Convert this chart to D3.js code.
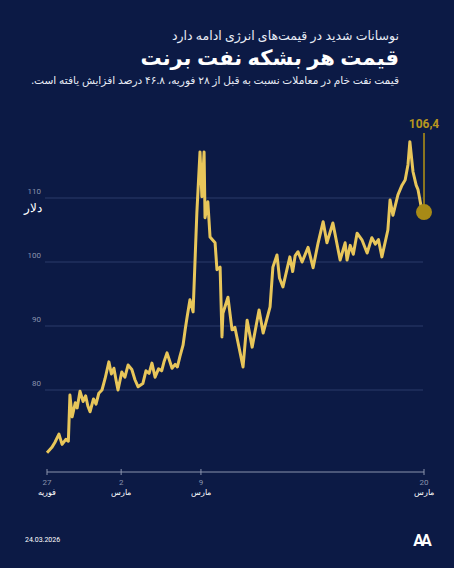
<!DOCTYPE html>
<html><head><meta charset="utf-8">
<script src="https://cdn.jsdelivr.net/npm/d3@7"></script>
<style>body{margin:0;background:#0c1a45}svg{display:block}</style>
</head><body><div id="chart"></div>
<script>
// brent price, x = trading-time index (0..120)
var idx = [0,1.5,2.5,3.8,4.8,6.0,6.8,7.3,8.0,9.0,9.6,10.5,11.5,12.3,13.0,13.7,14.8,15.6,16.5,17.5,18.5,19.7,20.5,21.3,22.0,22.6,23.8,24.8,25.8,27.0,28.0,29.0,30.5,31.5,32.5,33.4,34.4,35.5,36.5,37.3,38.2,39.8,40.8,41.5,42.3,43.3,44.0,44.6,45.5,46.5,47.7,48.7,49.3,50.0,50.3,51.2,51.9,53.5,54.1,55.1,55.7,56.0,57.6,58.9,59.8,62.4,63.7,65.3,67.5,68.8,71.0,71.9,73.2,74.0,75.1,77.3,78.2,79.0,79.9,81.2,83.1,84.7,86.3,87.9,89.1,91.0,93.3,94.9,95.5,96.5,97.5,98.7,100.3,101.9,103.4,104.5,105.5,106.6,108.5,109.2,110.1,111.7,113.0,114.0,114.9,115.5,116.5,117.5,118.1,119.0,119.4,120];
var price = [70.2,71.0,71.8,73.1,71.5,72.3,72.0,79.2,75.8,78.0,77.2,79.8,78.2,79.1,77.5,76.6,78.6,77.8,79.5,80.0,81.8,84.4,82.5,83.4,81.5,80.0,82.8,82.0,83.9,83.2,81.6,80.5,81.0,83.0,82.6,84.2,82.0,83.3,83.0,84.5,85.8,83.4,84.0,83.6,85.2,87.0,89.5,91.4,94.1,92.2,107.7,117.2,110.2,117.2,106.9,109.4,103.9,103.0,98.8,99.2,88.3,92.0,94.5,89.4,89.8,83.6,90.9,86.7,92.5,88.9,93.0,99.2,101.1,97.5,96.1,100.8,98.5,101.0,101.6,100.0,102.3,99.1,103.0,106.3,103.0,106.1,100.3,103.0,100.3,102.6,101.2,104.5,103.4,101.4,103.8,102.8,103.5,100.8,105.0,109.7,107.3,110.5,112.0,112.8,115.2,118.8,114.1,112.0,111.3,108.9,106.9,107.8];
var yTicks = [80, 90, 100, 110];
var xTickIdx = [0, 23.6, 49, 120];
var xTickDay = ["27", "2", "9", "20"];
var xTickMonth = ["فوریه", "مارس", "مارس", "مارس"];

var svg = d3.select("#chart").append("svg").attr("width", 454).attr("height", 568);
svg.append("rect").attr("width", 454).attr("height", 568).attr("fill", "#0c1a45");

var x = d3.scaleLinear().domain([0, 120]).range([47, 424]);
var y = d3.scaleLinear().domain([80, 110]).range([390, 198]);

// header
var head = svg.append("g").attr("direction", "rtl").attr("font-family", "Noto Sans, DejaVu Sans");
head.append("text").attr("x", 399).attr("y", 40).attr("text-anchor", "start").attr("fill", "#e8ecf5").attr("font-size", 12.5).text("نوسانات شدید در قیمت‌های انرژی ادامه دارد");
head.append("text").attr("x", 399).attr("y", 65).attr("text-anchor", "start").attr("fill", "#fff").attr("font-size", 21).attr("font-weight", "bold").text("قیمت هر بشکه نفت برنت");
head.append("text").attr("x", 399).attr("y", 84).attr("text-anchor", "start").attr("fill", "#e8ecf5").attr("font-size", 10.6).text("قیمت نفت خام در معاملات نسبت به قبل از ۲۸ فوریه، ۴۶.۸ درصد افزایش یافته است.");

// grid
svg.append("g").selectAll("line").data(yTicks).enter().append("line")
  .attr("x1", 45).attr("x2", 423).attr("y1", function (d) { return y(d); }).attr("y2", function (d) { return y(d); })
  .attr("stroke", "#2b3a6b").attr("stroke-width", 1);
svg.append("g").selectAll("text").data(yTicks).enter().append("text")
  .attr("x", 41).attr("y", function (d) { return y(d) - 4; }).attr("text-anchor", "end")
  .attr("fill", "#8a93ad").attr("font-size", 8).attr("font-family", "Roboto").text(function (d) { return d; });
svg.append("text").attr("x", 42).attr("y", 212).attr("text-anchor", "end").attr("fill", "#fff")
  .attr("font-size", 12).attr("font-family", "Noto Sans").text("دلار");

// x axis
var xa = svg.append("g").attr("transform", "translate(0,472)");
xa.append("line").attr("x1", x(0)).attr("x2", x(120)).attr("stroke", "#8a93ad");
xa.selectAll(".tk").data(xTickIdx).enter().append("line").attr("class", "tk")
  .attr("x1", function (d) { return x(d); }).attr("x2", function (d) { return x(d); })
  .attr("y1", -3).attr("y2", 3).attr("stroke", "#8a93ad");
xa.selectAll(".dy").data(xTickIdx).enter().append("text").attr("class", "dy")
  .attr("x", function (d) { return x(d); }).attr("y", 13).attr("text-anchor", "middle")
  .attr("fill", "#8a93ad").attr("font-size", 8).attr("font-family", "Roboto")
  .text(function (d, i) { return xTickDay[i]; });
xa.selectAll(".mo").data(xTickIdx).enter().append("text").attr("class", "mo")
  .attr("x", function (d) { return x(d); }).attr("y", 23).attr("text-anchor", "middle")
  .attr("fill", "#fff").attr("font-size", 7.5).attr("font-family", "Noto Sans")
  .text(function (d, i) { return xTickMonth[i]; });

// line
var pts = idx.map(function (d, i) { return [d, price[i]]; });
svg.append("path").datum(pts)
  .attr("d", d3.line().x(function (d) { return x(d[0]); }).y(function (d) { return y(d[1]); }))
  .attr("fill", "none").attr("stroke", "#e8c65a").attr("stroke-width", 3).attr("stroke-linejoin", "round");

// last value marker
var last = pts[pts.length - 1];
svg.append("line").attr("x1", x(last[0])).attr("x2", x(last[0])).attr("y1", 133).attr("y2", y(last[1]))
  .attr("stroke", "#8a7420").attr("stroke-width", 2);
svg.append("circle").attr("cx", x(last[0])).attr("cy", y(last[1])).attr("r", 8).attr("fill", "#a88a16");
svg.append("text").attr("x", x(last[0])).attr("y", 128).attr("text-anchor", "middle")
  .attr("fill", "#b8961e").attr("font-size", 12).attr("font-weight", "bold").attr("font-family", "Roboto").text("106,4");

// footer
svg.append("text").attr("x", 25).attr("y", 542).attr("fill", "#fff").attr("font-size", 7).attr("font-family", "Roboto").text("24.03.2026");
svg.append("text").attr("x", 421).attr("y", 546).attr("text-anchor", "middle").attr("fill", "#fff")
  .attr("font-size", 16).attr("font-weight", "bold").attr("font-family", "Roboto").attr("letter-spacing", -3).text("AA");
</script></body></html>
